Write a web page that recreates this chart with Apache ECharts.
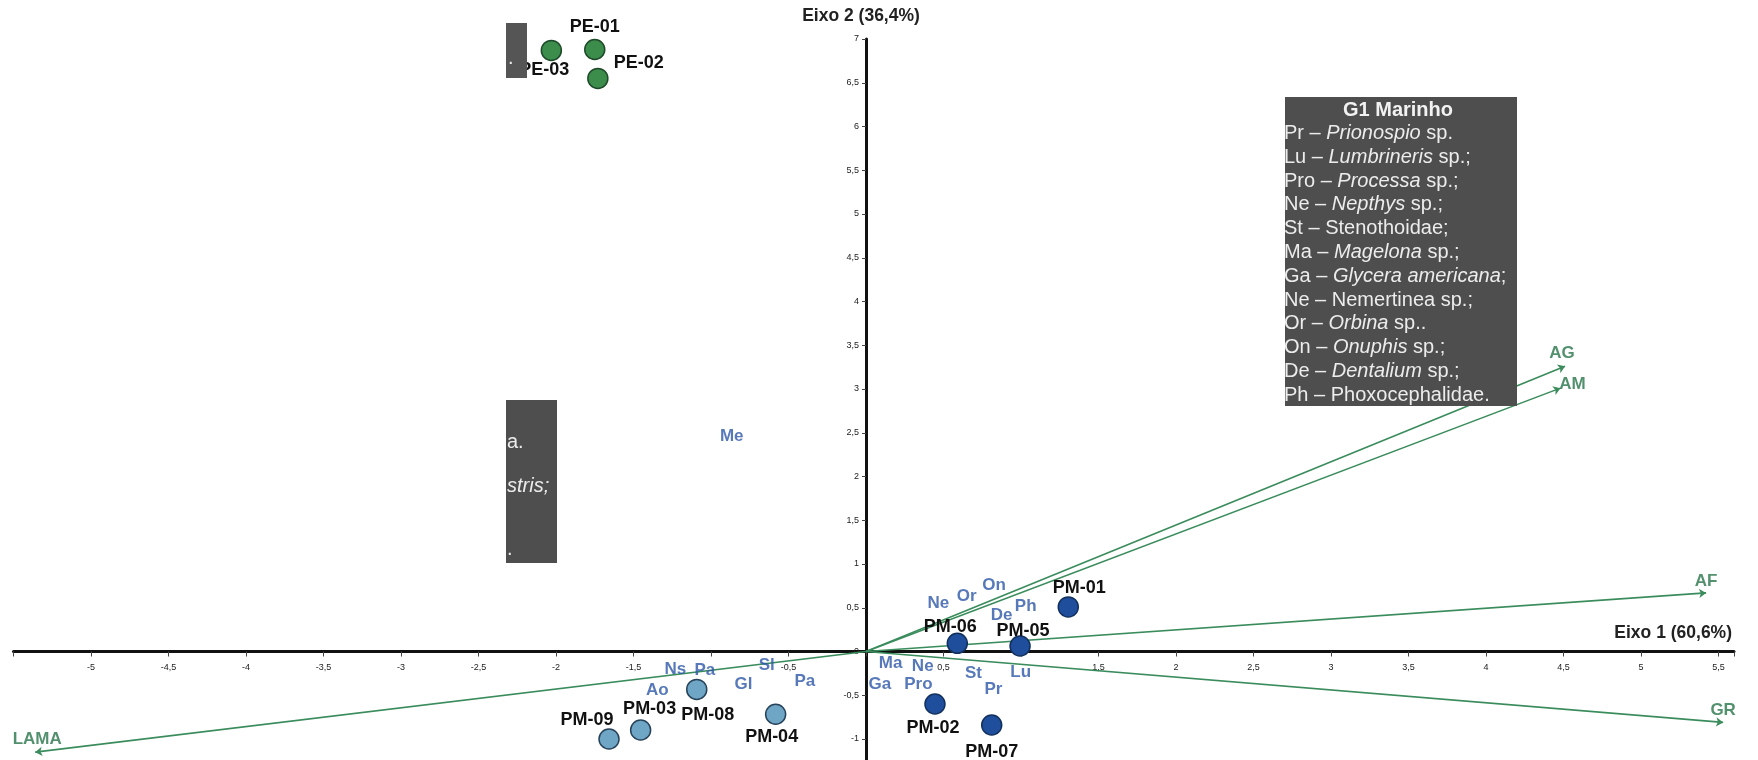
<!DOCTYPE html>
<html><head><meta charset="utf-8">
<script src="https://cdn.jsdelivr.net/npm/echarts@6/dist/echarts.min.js"></script>
<style>html,body{margin:0;padding:0;background:#fff}#c{width:1758px;height:760px}</style>
</head><body><div id="c"></div>
<script>
// ---- data ----
const peNames = ['PE-01', 'PE-02', 'PE-03'];
const peX = [-1.75, -1.73, -2.03];
const peY = [6.88, 6.55, 6.87];

const marNames = ['PM-01', 'PM-06', 'PM-05', 'PM-02', 'PM-07'];
const marX = [1.305, 0.589, 0.994, 0.445, 0.811];
const marY = [0.51, 0.094, 0.063, -0.60, -0.84];

const estNames = ['PM-08', 'PM-04', 'PM-03', 'PM-09'];
const estX = [-1.092, -0.583, -1.454, -1.658];
const estY = [-0.433, -0.717, -0.897, -1.0];

const spNames = ['Ne', 'Or', 'On', 'De', 'Ph', 'Ma', 'Ne', 'St', 'Lu', 'Pr', 'Ga', 'Pro', 'Me', 'Ns', 'Pa', 'Sl', 'Gl', 'Pa', 'Ao'];
const spX = [0.467, 0.65, 0.826, 0.875, 1.03, 0.159, 0.366, 0.693, 0.998, 0.822, 0.09, 0.338, -0.866, -1.23, -1.04, -0.64, -0.79, -0.394, -1.346];
const spY = [0.55, 0.63, 0.76, 0.41, 0.52, -0.14, -0.165, -0.25, -0.24, -0.43, -0.37, -0.37, 2.465, -0.20, -0.22, -0.16, -0.38, -0.34, -0.44];

const vecNames = ['AG', 'AM', 'AF', 'GR', 'LAMA'];
const vecX = [4.51, 4.48, 5.42, 5.53, -5.36];
const vecY = [3.26, 3.01, 0.67, -0.81, -1.15];

const xTitle = 'Eixo 1 (60,6%)';
const yTitle = 'Eixo 2 (36,4%)';

const legendTitle = 'G1 Marinho';
const legendLines = [
  'Pr – {i|Prionospio} sp.',
  'Lu – {i|Lumbrineris} sp.;',
  'Pro – {i|Processa} sp.;',
  'Ne – {i|Nepthys} sp.;',
  'St – Stenothoidae;',
  'Ma – {i|Magelona} sp.;',
  'Ga – {i|Glycera americana};',
  'Ne – Nemertinea sp.;',
  'Or – {i|Orbina} sp..',
  'On – {i|Onuphis} sp.;',
  'De – {i|Dentalium} sp.;',
  'Ph – Phoxocephalidae.'
];
const leftFragments = [
  { t: 'a.', y: 442 },
  { t: '{i|stris;}', y: 486 },
  { t: '.', y: 549 }
];

// ---- layout / styling ----
const X_MIN = -5.5, X_MAX = 5.6, Y_MIN = -1.5, Y_MAX = 7;
const PX_X = 155, PX_Y = 87.5;            // pixels per unit
const G_LEFT = 866 - (0 - X_MIN) * PX_X;  // grid left so that x=0 sits at 866px
const G_TOP = 651.5 - Y_MAX * PX_Y;       // grid top so that y=0 sits at 651.5px
const G_W = (X_MAX - X_MIN) * PX_X;
const G_H = (Y_MAX - Y_MIN) * PX_Y;
const X_AXIS_OFFSET = -(G_H - Y_MAX * PX_Y);   // move x axis up to y=0
const Y_AXIS_OFFSET = -((0 - X_MIN) * PX_X);   // move y axis right to x=0

const siteLabelOffset = {
  'PE-01': [0, -22], 'PE-02': [41, -15], 'PE-03': [-7, 20],
  'PM-01': [11, -19], 'PM-06': [-7, -16], 'PM-05': [3, -15], 'PM-02': [-2, 24], 'PM-07': [0, 27],
  'PM-08': [11, 26], 'PM-04': [-4, 23], 'PM-03': [9, -21], 'PM-09': [-22, -19]
};
const vecLabelOffset = { 'AG': [-3, -13], 'AM': [12, -4], 'AF': [0, -12], 'GR': [0, -12], 'LAMA': [2, -13] };

const FONT = 'Liberation Sans, Arial, sans-serif';

function siteSeries(names, xs, ys, fill, border) {
  return {
    type: 'scatter', symbolSize: 20, z: 5,
    itemStyle: { color: fill, borderColor: border, borderWidth: 1.5, opacity: 1 },
    label: { show: true, position: 'inside', formatter: '{b}', color: '#111', fontSize: 18, fontWeight: 'bold', fontFamily: FONT },
    data: names.map((n, i) => ({ name: n, value: [xs[i], ys[i]], label: { offset: siteLabelOffset[n] } }))
  };
}

function fmt(v, lo, hi, hideSet) {
  if (v < lo - 1e-9 || v > hi + 1e-9) return '';
  const r = Math.round(v * 100) / 100;
  if (hideSet.some(h => Math.abs(h - r) < 1e-9)) return '';
  return String(r).replace('.', ',');
}

const option = {
  animation: false,
  backgroundColor: '#fff',
  grid: { left: G_LEFT, top: G_TOP, width: G_W, height: G_H, containLabel: false, outerBoundsMode: 'none' },
  xAxis: {
    type: 'value', min: X_MIN, max: X_MAX, interval: 0.5,
    position: 'bottom', offset: X_AXIS_OFFSET,
    splitLine: { show: false },
    axisLine: { onZero: false, lineStyle: { color: '#111', width: 3 } },
    axisTick: { show: true, length: 5, lineStyle: { color: '#444', width: 1 } },
    axisLabel: { fontSize: 9, color: '#222', margin: 12, fontFamily: FONT,
      formatter: v => fmt(v, -5, 5.5, [0, -1, 1]) },
    name: xTitle, nameLocation: 'end', nameGap: -2,
    nameTextStyle: { fontSize: 17.5, fontWeight: 'bold', color: '#222', fontFamily: FONT, align: 'right', verticalAlign: 'bottom', padding: [0, 0, 9, 0] }
  },
  yAxis: {
    type: 'value', min: Y_MIN, max: Y_MAX, interval: 0.5,
    position: 'left', offset: Y_AXIS_OFFSET,
    splitLine: { show: false },
    axisLine: { onZero: false, lineStyle: { color: '#111', width: 3 } },
    axisTick: { show: true, length: 4, lineStyle: { color: '#444', width: 1 } },
    axisLabel: { fontSize: 9, color: '#222', margin: 7, fontFamily: FONT,
      formatter: v => fmt(v, -1, 7, []) },
    name: yTitle, nameLocation: 'end', nameGap: 14,
    nameTextStyle: { fontSize: 17.5, fontWeight: 'bold', color: '#222', fontFamily: FONT, padding: [0, 10, 0, 0] }
  },
  series: [
    {
      type: 'lines', coordinateSystem: 'cartesian2d', z: 3,
      symbol: ['none', 'arrow'], symbolSize: 7,
      lineStyle: { color: '#3a8c5c', width: 1.6, opacity: 1 },
      data: vecNames.map((n, i) => ({ name: n, coords: [[0, 0], [vecX[i], vecY[i]]] }))
    },
    {
      type: 'scatter', symbolSize: 1, z: 4,
      itemStyle: { color: 'rgba(0,0,0,0)' },
      label: { show: true, position: 'inside', formatter: '{b}', color: '#27744a', fontSize: 17, fontWeight: 'bold', fontFamily: FONT },
      data: vecNames.map((n, i) => ({ name: n, value: [vecX[i], vecY[i]], label: { offset: vecLabelOffset[n] } }))
    },
    {
      type: 'scatter', symbolSize: 1, z: 4,
      itemStyle: { color: 'rgba(0,0,0,0)' },
      label: { show: true, position: 'inside', formatter: '{b}', color: '#2d57a8', fontSize: 17, fontWeight: 'bold', fontFamily: FONT },
      data: spNames.map((n, i) => ({ name: n, value: [spX[i], spY[i]] }))
    },
    siteSeries(peNames, peX, peY, '#3c8c4c', '#1d4a28'),
    siteSeries(marNames, marX, marY, '#1f4f9c', '#12305e'),
    siteSeries(estNames, estX, estY, '#6fa6c6', '#27435a')
  ],
  graphic: {
    elements: [
      { type: 'rect', z: 100, shape: { x: 1285, y: 97, width: 232, height: 309 }, style: { fill: '#4e4e4e' } },
      { type: 'text', z: 101, style: { x: 1398, y: 110, text: legendTitle, fill: '#f2f2f2', fontSize: 20, fontWeight: 'bold', fontFamily: FONT, align: 'center', verticalAlign: 'middle' } },
      ...legendLines.map((t, i) => ({
        type: 'text', z: 101,
        style: { x: 1284, y: 133.5 + i * 23.8, text: t, fill: '#ececec', fontSize: 20, fontFamily: FONT, align: 'left', verticalAlign: 'middle',
          rich: { i: { fill: '#ececec', fontSize: 20, fontStyle: 'italic', fontFamily: FONT } } }
      })),
      { type: 'rect', z: 100, shape: { x: 506, y: 400, width: 51, height: 163 }, style: { fill: '#4e4e4e' } },
      ...leftFragments.map(f => ({
        type: 'text', z: 101,
        style: { x: 507, y: f.y, text: f.t, fill: '#ececec', fontSize: 20, fontFamily: FONT, align: 'left', verticalAlign: 'middle',
          rich: { i: { fill: '#ececec', fontSize: 20, fontStyle: 'italic', fontFamily: FONT } } }
      })),
      { type: 'rect', z: 100, shape: { x: 506, y: 23, width: 21, height: 55 }, style: { fill: '#555555' } },
      { type: 'text', z: 101, style: { x: 508, y: 58, text: '.', fill: '#ececec', fontSize: 20, fontFamily: FONT, align: 'left', verticalAlign: 'middle' } }
    ]
  }
};

const chart = echarts.init(document.getElementById('c'), null, { renderer: 'canvas' });
chart.setOption(option);
</script>
</body></html>
